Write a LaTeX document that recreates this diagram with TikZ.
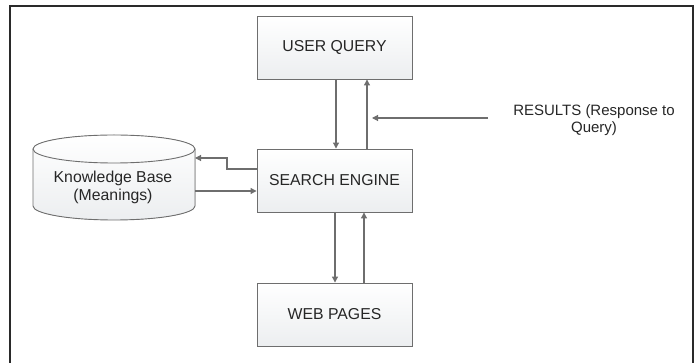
\documentclass[tikz,border=0pt]{standalone}
\usepackage{fontspec}
\setmainfont{Liberation Sans}
\usetikzlibrary{arrows.meta}
\definecolor{lc}{HTML}{6E6E6E}
\definecolor{fr}{HTML}{2A2A2A}
\definecolor{fillb}{HTML}{ECEEF0}
\tikzset{
  box/.style={draw=lc, line width=0.9pt, top color=white, bottom color=fillb, minimum width=155pt, minimum height=63pt, inner sep=0pt, font=\fontsize{15.8}{18}\selectfont, text=black!85},
  conn/.style={draw=lc, line width=1.1pt, -{Triangle[length=6pt,width=6pt]}},
  lbl/.style={font=\fontsize{15}{17}\selectfont, align=center, text=black!85, inner sep=0pt}
}
\begin{document}
\begin{tikzpicture}[x=1pt,y=-1pt]
\useasboundingbox (0,0) rectangle (699,363);
% frame
\draw[fr, line width=2.5pt] (10,364) -- (10,6) -- (693,6) -- (693,364);
% boxes
\node[box] (uq) at (334.5,47.5) {USER QUERY};
\node[box] (se) at (334.5,180.5) {SEARCH ENGINE};
\node[box] (wp) at (334.5,314.5) {WEB PAGES};
% cylinder
\fill[top color=white, bottom color=fillb] (33,149) -- (33,206) arc[start angle=180,end angle=0,x radius=81,y radius=14] -- (195,149) arc[start angle=0,end angle=-180,x radius=81,y radius=14] -- cycle;
\draw[lc, line width=0.9pt] (33,149) -- (33,206) arc[start angle=180,end angle=0,x radius=81,y radius=14] -- (195,149);
\draw[lc, line width=0.9pt] (114,149) ellipse[x radius=81,y radius=14];
\node[lbl, font=\fontsize{15.8}{18}\selectfont] (kb) at (113,187) {Knowledge Base\\(Meanings)};
\coordinate (kbin) at (195,158);
\coordinate (kbout) at (195,191);
% connectors
\draw[conn] (uq.south -| 336,0) -- (se.north -| 336,0);
\draw[conn] (se.north -| 367,0) -- (uq.south -| 367,0);
\draw[conn] (se.south -| 335,0) -- (wp.north -| 335,0);
\draw[conn] (wp.north -| 364,0) -- (se.south -| 364,0);
\draw[conn] (se.west |- 0,169) -- (227,169) -- (227,158) -- (kbin);
\draw[conn] (kbout) -- (se.west |- 0,191);
% results
\node[lbl] (res) at (594,120) {RESULTS (Response to\\Query)};
\coordinate (rs) at (488,118);
\coordinate (re) at (372,118);
\draw[conn] (rs) -- (re);
\end{tikzpicture}
\end{document}
